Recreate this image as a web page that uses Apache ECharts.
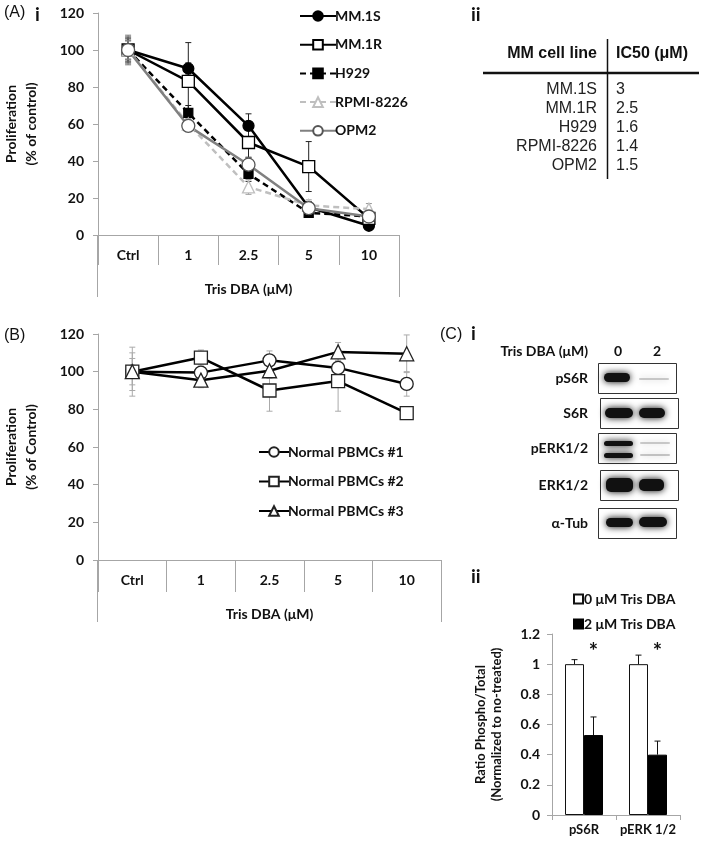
<!DOCTYPE html>
<html>
<head>
<meta charset="utf-8">
<script src="https://cdn.jsdelivr.net/npm/echarts@6/dist/echarts.min.js"></script>
<style>
  html, body { margin: 0; padding: 0; background: #fff; }
  #chart { width: 702px; height: 846px; }
</style>
</head>
<body>
<div id="chart"></div>
<script>
// ---- data ----
const doseCats = ['Ctrl', '1', '2.5', '5', '10'];

// panel A: MM cell lines, % of control
const mm1s = [100, 90, 59, 15, 5];
const mm1sErr = [5, 3, 6.5, 3, 2];
const mm1r = [100, 83, 50, 37, 9];
const mm1rErr = [7, 21, 8, 13.5, 3];
const h929 = [100, 66, 33, 12, 10];
const h929Err = [6, 4, 4, 2, 2];
const rpmi = [100, 60, 26, 16, 14];
const rpmiErr = [5, 3, 4, 3, 3];
const opm2 = [100, 59, 38, 14.5, 10];
const opm2Err = [8, 3, 4, 3, 3];

// panel A ii: IC50 table
const cellLines = ['MM.1S', 'MM.1R', 'H929', 'RPMI-8226', 'OPM2'];
const ic50 = ['3', '2.5', '1.6', '1.4', '1.5'];

// panel B: normal PBMCs
const pbmc1 = [100, 99.5, 106, 102, 93.5];
const pbmc1Err = [7, 3, 5, 4, 6.5];
const pbmc2 = [100, 107.5, 90, 95, 78];
const pbmc2Err = [13, 4, 11, 16, 3];
const pbmc3 = [100, 95.5, 100.5, 110.5, 109.5];
const pbmc3Err = [10, 4, 4, 5, 10];

// panel C ii: phospho/total ratio
const blotCats = ['pS6R', 'pERK 1/2'];
const ratio0 = [1.0, 1.0];
const ratio0Err = [0.03, 0.06];
const ratio2 = [0.53, 0.40];
const ratio2Err = [0.12, 0.09];
const starLevel = [1.08, 1.08];

const blotRows = ['pS6R', 'S6R', 'pERK1/2', 'ERK1/2', 'α-Tub'];

// ---- helpers ----
const FONT = 'Lato, "Open Sans", sans-serif';
const AXIS_GREY = '#a6a6a6';

function errData(vals, errs) {
  return vals.map((v, i) => [i, v, errs[i]]);
}

function errorBars(xi, yi, vals, errs, color, upOnly, offset) {
  return {
    type: 'custom',
    xAxisIndex: xi,
    yAxisIndex: yi,
    z: 1,
    silent: true,
    data: errData(vals, errs),
    renderItem: function (params, api) {
      const i = api.value(0), v = api.value(1), e = api.value(2);
      const hi = api.coord([i, v + e]);
      const lo = api.coord([i, upOnly ? v : v - e]);
      const x = hi[0] + (offset || 0);
      const cap = 3;
      const children = [
        { type: 'line', shape: { x1: x, y1: hi[1], x2: x, y2: lo[1] }, style: { stroke: color, lineWidth: 1 } },
        { type: 'line', shape: { x1: x - cap, y1: hi[1], x2: x + cap, y2: hi[1] }, style: { stroke: color, lineWidth: 1 } }
      ];
      if (!upOnly) {
        children.push({ type: 'line', shape: { x1: x - cap, y1: lo[1], x2: x + cap, y2: lo[1] }, style: { stroke: color, lineWidth: 1 } });
      }
      return { type: 'group', children: children };
    }
  };
}

function lineSeries(name, xi, yi, data, color, dashed, symbol, size, fill, border) {
  return {
    name: name,
    type: 'line',
    xAxisIndex: xi,
    yAxisIndex: yi,
    data: data,
    z: 3,
    symbol: symbol,
    symbolSize: size,
    showAllSymbol: true,
    lineStyle: { color: color, width: 2.5, type: dashed ? [6, 4] : 'solid' },
    itemStyle: { color: fill, borderColor: border, borderWidth: 1.3, opacity: 1 },
    emphasis: { disabled: true }
  };
}

function catAxis(gi, tickLen) {
  return {
    type: 'category',
    gridIndex: gi,
    data: doseCats,
    boundaryGap: true,
    axisLine: { lineStyle: { color: AXIS_GREY, width: 1 } },
    axisTick: { show: true, interval: 0, length: tickLen, inside: false, lineStyle: { color: AXIS_GREY } },
    axisLabel: { interval: 0, margin: 13, color: '#111', fontFamily: FONT, fontWeight: 'bold', fontSize: 14 },
    name: 'Tris DBA (μM)',
    nameLocation: 'middle',
    nameGap: 47,
    nameTextStyle: { color: '#111', fontFamily: FONT, fontWeight: 'bold', fontSize: 14 }
  };
}

function pctAxis(gi, name) {
  return {
    type: 'value',
    gridIndex: gi,
    min: 0,
    max: 120,
    interval: 20,
    axisLine: { show: true, lineStyle: { color: AXIS_GREY } },
    axisTick: { show: true, length: 5, lineStyle: { color: AXIS_GREY } },
    splitLine: { show: false },
    axisLabel: { margin: 14, color: '#111', fontFamily: FONT, fontWeight: 'bold', fontSize: 14 },
    name: name,
    nameLocation: 'middle',
    nameRotate: 90,
    nameGap: 57,
    nameTextStyle: { color: '#111', fontFamily: FONT, fontWeight: 'bold', fontSize: 14, lineHeight: 20 }
  };
}

// ---- graphic elements: panel letters, table, blots, axis extensions ----
const graphics = [];
function txt(x, y, text, opt) {
  graphics.push({
    type: 'text', x: x, y: y, silent: true, z: 10,
    style: Object.assign({ text: text, fill: '#111', font: 'bold 14px ' + FONT, textAlign: 'left', textVerticalAlign: 'middle' }, opt || {})
  });
}
function vline(x, y1, y2, color, w) {
  graphics.push({ type: 'line', silent: true, shape: { x1: x, y1: y1, x2: x, y2: y2 }, style: { stroke: color, lineWidth: w || 1 } });
}

txt(4, 13, '(A)', { font: '16px "Liberation Sans", Arial, sans-serif' });
txt(35, 15, 'i', { font: 'bold 19px ' + FONT });
txt(4, 336, '(B)', { font: '16px "Liberation Sans", Arial, sans-serif' });
txt(440, 335, '(C)', { font: '16px "Liberation Sans", Arial, sans-serif' });
txt(471, 334, 'i', { font: 'bold 19px ' + FONT });
txt(471, 15, 'ii', { font: 'bold 19px ' + FONT });
txt(471, 577, 'ii', { font: 'bold 19px ' + FONT });

// axis box extensions below the category rows
vline(97.5, 235, 297, AXIS_GREY);
vline(399.5, 235, 297, AXIS_GREY);
vline(97.5, 560, 622, AXIS_GREY);
vline(441.5, 560, 622, AXIS_GREY);

// IC50 table
const tblFont = '16px "Liberation Sans", Arial, sans-serif';
txt(597, 54, 'MM cell line', { font: 'bold ' + tblFont, textAlign: 'right' });
txt(616, 54, 'IC50 (μM)', { font: 'bold ' + tblFont });
graphics.push({ type: 'line', silent: true, shape: { x1: 483, y1: 73, x2: 699, y2: 73 }, style: { stroke: '#111', lineWidth: 2.5 } });
vline(607.5, 39, 179, '#111', 1.5);
cellLines.forEach((c, i) => {
  txt(597, 90 + i * 19, c, { font: tblFont, textAlign: 'right', fill: '#222' });
  txt(616, 90 + i * 19, ic50[i], { font: tblFont, fill: '#222' });
});

// western blot panel
txt(588, 351, 'Tris DBA (μM)', { textAlign: 'right' });
txt(618, 351, '0', { textAlign: 'center' });
txt(657, 351, '2', { textAlign: 'center' });
const boxes = [[598, 363], [600, 398], [598, 433], [600, 470], [598, 508]];
const blotBands = [
  [[601, 371, 32, 13, 1], [636, 376, 36, 6, 0.2]],
  [[602, 406, 34, 14, 1], [636, 406, 32, 14, 1]],
  [[601, 439, 35, 9, 1], [601, 451, 35, 9, 1], [637, 440, 36, 5, 0.2], [637, 452, 36, 5, 0.22]],
  [[603, 476, 33, 18, 1], [636, 477, 31, 16, 1]],
  [[603, 516, 33, 13, 1], [636, 515, 34, 14, 1]]
];
blotRows.forEach((r, i) => {
  const b = boxes[i];
  txt(588, b[1] + 15, r, { textAlign: 'right' });
  graphics.push({ type: 'rect', silent: true, shape: { x: b[0] + 0.5, y: b[1] + 0.5, width: 78, height: 30 }, style: { fill: '#fff', stroke: '#333', lineWidth: 1 } });
  blotBands[i].forEach(bd => {
    graphics.push({
      type: 'rect', silent: true,
      shape: { x: bd[0] + 3, y: bd[1] + 2, width: bd[2] - 6, height: Math.max(bd[3] - 4, 2), r: 5 },
      style: { fill: '#111', opacity: bd[4], shadowBlur: 7, shadowColor: '#000' }
    });
  });
});

// ---- option ----
const option = {
  animation: false,
  backgroundColor: '#fff',
  grid: [
    { left: 97, top: 13, width: 302, height: 222 },
    { left: 97, top: 334, width: 344, height: 226 },
    { left: 552, top: 634, width: 128, height: 181 }
  ],
  xAxis: [
    catAxis(0, 30),
    catAxis(1, 32),
    {
      type: 'category',
      gridIndex: 2,
      data: blotCats,
      axisLine: { lineStyle: { color: AXIS_GREY } },
      axisTick: { show: true, length: 5, lineStyle: { color: AXIS_GREY } },
      axisLabel: { interval: 0, margin: 8, color: '#111', fontFamily: FONT, fontWeight: 'bold', fontSize: 13 }
    }
  ],
  yAxis: [
    pctAxis(0, 'Proliferation\n(% of control)'),
    pctAxis(1, 'Proliferation\n(% of Control)'),
    {
      type: 'value',
      gridIndex: 2,
      min: 0,
      max: 1.2,
      interval: 0.2,
      axisLine: { show: true, lineStyle: { color: AXIS_GREY } },
      axisTick: { show: true, length: 5, lineStyle: { color: AXIS_GREY } },
      splitLine: { show: false },
      axisLabel: { margin: 12, color: '#111', fontFamily: FONT, fontWeight: 'bold', fontSize: 14 },
      name: 'Ratio Phospho/Total\n(Normalized to no-treated)',
      nameLocation: 'middle',
      nameRotate: 90,
      nameGap: 47,
      nameMoveOverlap: false,
      nameTextStyle: { color: '#111', fontFamily: FONT, fontWeight: 'bold', fontSize: 13, lineHeight: 16 }
    }
  ],
  legend: [
    {
      left: 294, top: 4, orient: 'vertical', itemWidth: 36, itemHeight: 12, itemGap: 14.7,
      data: ['MM.1S', 'MM.1R', 'H929', 'RPMI-8226', 'OPM2'],
      selectedMode: false,
      textStyle: { color: '#111', fontFamily: FONT, fontWeight: 'bold', fontSize: 14, padding: [0, 0, 0, -6] }
    },
    {
      left: 253, top: 440, orient: 'vertical', itemWidth: 30, itemHeight: 12, itemGap: 15.5,
      data: ['Normal PBMCs #1', 'Normal PBMCs #2', 'Normal PBMCs #3'],
      selectedMode: false,
      textStyle: { color: '#111', fontFamily: FONT, fontWeight: 'bold', fontSize: 14, padding: [0, 0, 0, -6] }
    },
    {
      left: 568, top: 587, orient: 'vertical', itemWidth: 9, itemHeight: 9, itemGap: 11,
      icon: 'rect',
      data: ['0 μM Tris DBA', '2 μM Tris DBA'],
      selectedMode: false,
      textStyle: { color: '#111', fontFamily: FONT, fontWeight: 'bold', fontSize: 14, padding: [0, 0, 0, -4] }
    }
  ],
  graphic: graphics,
  series: [
    // panel A error bars
    errorBars(0, 0, mm1s, mm1sErr, '#222'),
    errorBars(0, 0, mm1r, mm1rErr, '#222'),
    errorBars(0, 0, h929, h929Err, '#222'),
    errorBars(0, 0, rpmi, rpmiErr, '#999'),
    errorBars(0, 0, opm2, opm2Err, '#777'),
    // panel A lines
    lineSeries('MM.1S', 0, 0, mm1s, '#000', false, 'circle', 11, '#000', '#000'),
    lineSeries('MM.1R', 0, 0, mm1r, '#000', false, 'rect', 12, '#fff', '#000'),
    lineSeries('H929', 0, 0, h929, '#000', true, 'rect', 9, '#000', '#000'),
    lineSeries('RPMI-8226', 0, 0, rpmi, '#bfbfbf', true, 'triangle', 12, '#fff', '#bfbfbf'),
    lineSeries('OPM2', 0, 0, opm2, '#808080', false, 'circle', 13, '#fff', '#555'),
    // panel B error bars
    errorBars(1, 1, pbmc1, pbmc1Err, '#aaa'),
    errorBars(1, 1, pbmc2, pbmc2Err, '#aaa'),
    errorBars(1, 1, pbmc3, pbmc3Err, '#aaa'),
    // panel B lines
    lineSeries('Normal PBMCs #1', 1, 1, pbmc1, '#000', false, 'circle', 13, '#fff', '#222'),
    lineSeries('Normal PBMCs #2', 1, 1, pbmc2, '#000', false, 'rect', 13, '#fff', '#222'),
    lineSeries('Normal PBMCs #3', 1, 1, pbmc3, '#000', false, 'triangle', 14, '#fff', '#222'),
    // panel C ii bars
    {
      name: '0 μM Tris DBA', type: 'bar', xAxisIndex: 2, yAxisIndex: 2, data: ratio0,
      barWidth: 19, barGap: '0%',
      itemStyle: { color: '#fff', borderColor: '#111', borderWidth: 1 }
    },
    {
      name: '2 μM Tris DBA', type: 'bar', xAxisIndex: 2, yAxisIndex: 2, data: ratio2,
      barWidth: 19, barGap: '0%',
      itemStyle: { color: '#000', borderColor: '#000', borderWidth: 1 }
    },
    Object.assign(errorBars(2, 2, ratio0, ratio0Err, '#111', true, -9.5), { z: 5 }),
    Object.assign(errorBars(2, 2, ratio2, ratio2Err, '#111', true, 9.5), { z: 5 }),
    {
      type: 'custom', xAxisIndex: 2, yAxisIndex: 2, silent: true, z: 6,
      data: starLevel.map((v, i) => [i, v]),
      renderItem: function (params, api) {
        const p = api.coord([api.value(0), api.value(1)]);
        return { type: 'text', x: p[0] + 9.5, y: p[1], style: { text: '*', font: 'bold 22px ' + FONT, fill: '#111', textAlign: 'center', textVerticalAlign: 'middle' } };
      }
    }
  ]
};

const myChart = echarts.init(document.getElementById('chart'), null, { renderer: 'canvas' });
myChart.setOption(option);
</script>
</body>
</html>
